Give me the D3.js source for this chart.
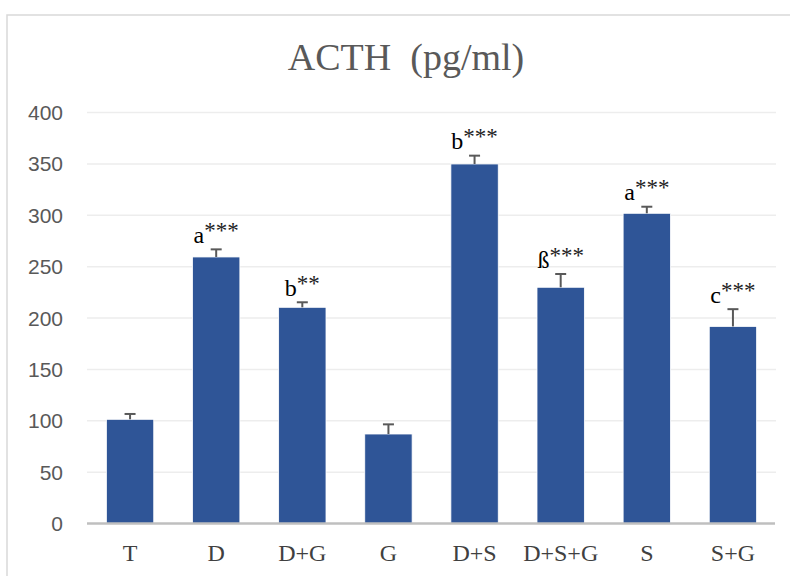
<!DOCTYPE html>
<html>
<head>
<meta charset="utf-8">
<script src="https://cdn.jsdelivr.net/npm/d3@7"></script>
<style>
  body { margin: 0; background: #fff; }
</style>
</head>
<body>
<div id="chart"></div>
<script>
// values
let groups = ["T", "D", "D+G", "G", "D+S", "D+S+G", "S", "S+G"];
let means = [101.4, 259.4, 210.4, 87.1, 349.9, 229.9, 301.9, 191.8];
let errors = [5.2, 7.4, 4.9, 9.4, 8.1, 12.9, 6.4, 16.8];
let letters = ["", "a", "b", "", "b", "ß", "a", "c"];
let stars = ["", "***", "**", "", "***", "***", "***", "***"];
let yTicks = [0, 50, 100, 150, 200, 250, 300, 350, 400];

let width = 790,
    height = 576;

let margin = {
    top: 112.5,
    bottom: 52.5,
    left: 87,
    right: 14
}

let data = groups.map(function(g, i) {
    return {name: g, value: means[i], err: errors[i], letter: letters[i], stars: stars[i]};
})

let svg = d3.select("#chart")
        .append("svg")
        .attr("width", width)
        .attr("height", height)

// chart frame
svg.append("rect")
    .attr("x", 7)
    .attr("y", 15)
    .attr("width", 820)
    .attr("height", 620)
    .attr("fill", "#fff")
    .attr("stroke", "#d9d9d9")
    .attr("stroke-width", 1.5)

let xScale = d3.scaleBand()
        .domain(groups)
        .range([margin.left, width - margin.right])
        .paddingInner(0.45)
        .paddingOuter(0.225)

let yScale = d3.scaleLinear()
        .domain([0, 400])
        .range([height - margin.bottom, margin.top])

// title
svg.append("text")
    .attr("x", 406)
    .attr("y", 70)
    .attr("text-anchor", "middle")
    .attr("font-family", "Liberation Serif, Times New Roman, serif")
    .attr("font-size", 38)
    .attr("fill", "#595959")
    .style("white-space", "pre")
    .text("ACTH  (pg/ml)")

// gridlines
svg.selectAll(".grid")
    .data(yTicks.slice(1))
    .enter().append("line")
    .attr("class", "grid")
    .attr("x1", margin.left)
    .attr("x2", width - margin.right)
    .attr("y1", function(d) { return yScale(d) })
    .attr("y2", function(d) { return yScale(d) })
    .attr("stroke", "#ededed")
    .attr("stroke-width", 1.5)

// y tick labels
svg.selectAll(".ytick")
    .data(yTicks)
    .enter().append("text")
    .attr("class", "ytick")
    .attr("x", 63)
    .attr("y", function(d) { return yScale(d) })
    .attr("dy", "0.36em")
    .attr("text-anchor", "end")
    .attr("font-family", "Liberation Sans, Arial, sans-serif")
    .attr("font-size", 21)
    .attr("fill", "#595959")
    .text(function(d) { return d })

// bars
svg.selectAll(".bar")
    .data(data)
    .enter().append("rect")
    .attr("class", "bar")
    .attr("x", function(d) { return xScale(d.name) })
    .attr("y", function(d) { return yScale(d.value) })
    .attr("width", xScale.bandwidth())
    .attr("height", function(d) { return yScale(0) - yScale(d.value) })
    .attr("fill", "#2f5597")
    .attr("stroke", "#ffffff")
    .attr("stroke-width", 0.8)

// error bars (upper only)
let errG = svg.selectAll(".err")
    .data(data)
    .enter().append("g")
    .attr("class", "err")
    .attr("transform", function(d) { return "translate(" + (xScale(d.name) + xScale.bandwidth() / 2) + ",0)" })

errG.append("line")
    .attr("x1", 0)
    .attr("x2", 0)
    .attr("y1", function(d) { return yScale(d.value) })
    .attr("y2", function(d) { return yScale(d.value + d.err) })
    .attr("stroke", "#595959")
    .attr("stroke-width", 2)

errG.append("line")
    .attr("x1", -5.5)
    .attr("x2", 5.5)
    .attr("y1", function(d) { return yScale(d.value + d.err) })
    .attr("y2", function(d) { return yScale(d.value + d.err) })
    .attr("stroke", "#595959")
    .attr("stroke-width", 2)

// x axis line
svg.append("line")
    .attr("x1", margin.left)
    .attr("x2", width - margin.right - 1)
    .attr("y1", yScale(0))
    .attr("y2", yScale(0))
    .attr("stroke", "#bfbfbf")
    .attr("stroke-width", 2.5)

// category labels
svg.selectAll(".xlabel")
    .data(groups)
    .enter().append("text")
    .attr("class", "xlabel")
    .attr("x", function(d) { return xScale(d) + xScale.bandwidth() / 2 })
    .attr("y", 560.5)
    .attr("text-anchor", "middle")
    .attr("font-family", "Liberation Serif, Times New Roman, serif")
    .attr("font-size", 24)
    .attr("fill", "#404040")
    .text(function(d) { return d })

// significance labels
let sig = svg.selectAll(".sig")
    .data(data.filter(function(d) { return d.letter !== "" }))
    .enter().append("text")
    .attr("class", "sig")
    .attr("x", function(d) { return xScale(d.name) + xScale.bandwidth() / 2 })
    .attr("y", function(d) { return yScale(d.value + d.err) - 6.5 })
    .attr("text-anchor", "middle")
    .attr("font-family", "Liberation Serif, Times New Roman, serif")
    .attr("font-size", 24)
    .attr("fill", "#000")

sig.append("tspan")
    .text(function(d) { return d.letter })

sig.append("tspan")
    .attr("dy", -5)
    .attr("font-size", 23)
    .attr("fill", "#222")
    .text(function(d) { return d.stars })
</script>
</body>
</html>
